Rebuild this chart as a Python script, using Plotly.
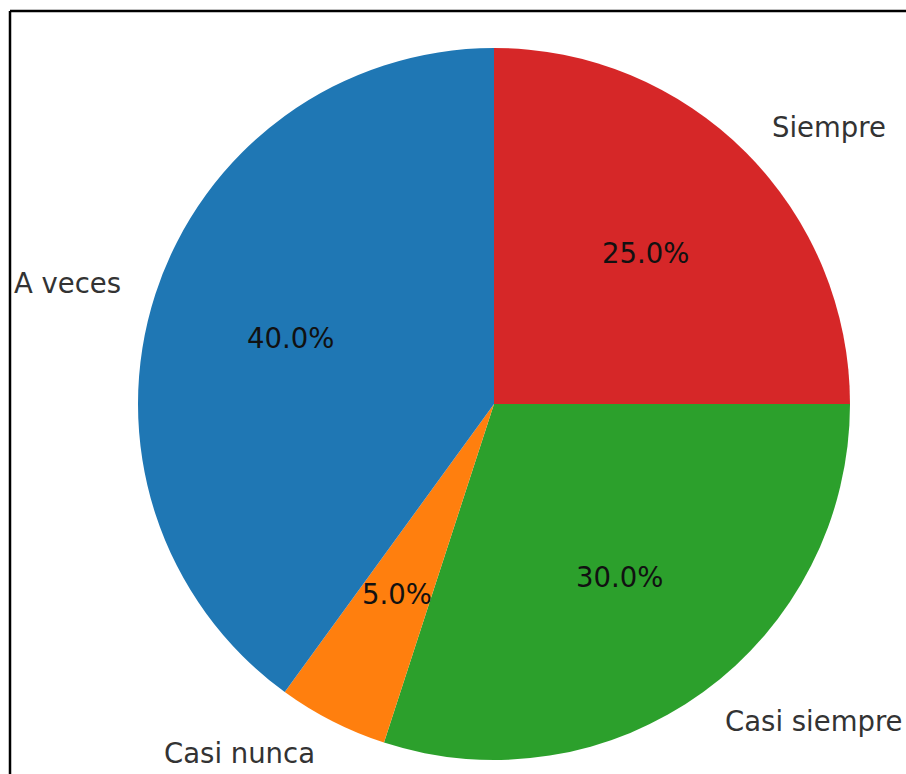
import math
import plotly.graph_objects as go

categories = ["Siempre", "Casi siempre", "Casi nunca", "A veces"]
values = [25, 30, 5, 40]
colors = ["#d62728", "#2ca02c", "#ff7f0e", "#1f77b4"]

W, H = 906, 774
CX, CY, R = 494, 404, 356

fig = go.Figure(go.Pie(
    labels=categories,
    values=values,
    sort=False,
    direction="clockwise",
    rotation=0,
    marker=dict(colors=colors, line=dict(width=0)),
    textinfo="none",
    hoverinfo="label+percent",
    showlegend=False,
    domain=dict(x=[(CX - R) / W, (CX + R) / W], y=[(H - CY - R) / H, (H - CY + R) / H]),
))

total = sum(values)
annotations = []
cum = 0
font_family = "DejaVu Sans"
for lab, v in zip(categories, values):
    mid = (cum + v / 2) / total
    cum += v
    ang = math.radians(90 - 360 * mid)
    c, s = math.cos(ang), math.sin(ang)
    # outer label at 1.1 r
    lx = CX + 1.1 * R * c
    ly = CY - 1.1 * R * s
    annotations.append(dict(
        x=lx / W, y=1 - ly / H, xref="paper", yref="paper",
        text=lab, showarrow=False,
        xanchor="left" if c > 0 else "right", yanchor="middle",
        font=dict(family=font_family, size=27.5, color="#333333"),
        borderpad=0,
    ))
    # percentage at 0.6 r
    px = CX + 0.6 * R * c
    py = CY - 0.6 * R * s
    annotations.append(dict(
        x=px / W, y=1 - py / H, xref="paper", yref="paper",
        text=f"{100 * v / total:.1f}%", showarrow=False,
        xanchor="center", yanchor="middle",
        font=dict(family=font_family, size=27.5, color="#111111"),
        borderpad=0,
    ))

fig.update_layout(
    width=W, height=H,
    margin=dict(l=0, r=0, t=0, b=0),
    paper_bgcolor="white",
    plot_bgcolor="white",
    annotations=annotations,
    shapes=[
        dict(type="line", xref="paper", yref="paper",
             x0=10 / W, x1=1.01, y0=1 - 11 / H, y1=1 - 11 / H,
             line=dict(color="black", width=2.5)),
        dict(type="line", xref="paper", yref="paper",
             x0=10 / W, x1=10 / W, y0=1 - 11 / H, y1=-0.01,
             line=dict(color="black", width=2.5)),
    ],
)

fig.write_html(
    "out.html",
    config={"displayModeBar": False},
    post_script="document.body.style.margin='0';document.body.style.overflow='hidden';",
)
